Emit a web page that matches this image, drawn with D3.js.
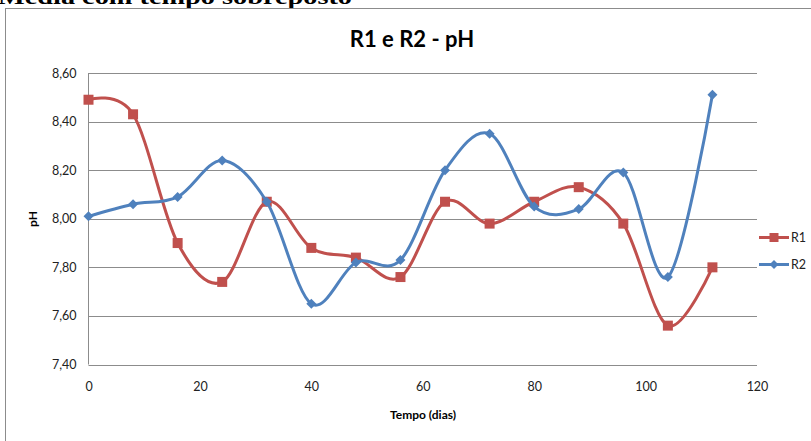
<!DOCTYPE html>
<html>
<head>
<meta charset="utf-8">
<script src="https://cdn.jsdelivr.net/npm/d3@7"></script>
<style>
  html, body { margin: 0; padding: 0; background: #fff; }
  svg { display: block; }
</style>
</head>
<body>
<svg id="chart" width="811" height="441"></svg>
<script>
// pH series, sampled every 8 days
var days = [0, 8, 16, 24, 32, 40, 48, 56, 64, 72, 80, 88, 96, 104, 112];
var r1 = [8.49, 8.43, 7.90, 7.74, 8.07, 7.88, 7.84, 7.76, 8.07, 7.98, 8.07, 8.13, 7.98, 7.56, 7.80];
var r2 = [8.01, 8.06, 8.09, 8.24, 8.07, 7.65, 7.82, 7.83, 8.20, 8.35, 8.05, 8.04, 8.19, 7.76, 8.51];
var seriesNames = ["R1", "R2"];
var xTicks = [0, 20, 40, 60, 80, 100, 120];
var yTicks = [7.40, 7.60, 7.80, 8.00, 8.20, 8.40, 8.60];

var colorMap = { R1: "#C0504D", R2: "#4F81BD" };
var ptBR = d3.formatLocale({ decimal: ",", thousands: ".", grouping: [3], currency: ["R$", ""] });
var fmtY = ptBR.format(".2f");

var svg = d3.select("#chart");

// heading of the page, cut off at the top
svg.append("text")
    .attr("x", -2).attr("y", 4)
    .attr("textLength", 354).attr("lengthAdjust", "spacingAndGlyphs")
    .style("font-family", "Liberation Serif")
    .style("font-weight", "bold")
    .style("font-size", "22px")
    .text("Média com tempo sobreposto");

// chart area border
svg.append("rect")
    .attr("x", 5.5).attr("y", 8.5)
    .attr("width", 820).attr("height", 450)
    .attr("fill", "none").attr("stroke", "#8c8c8c");

var x = d3.scaleLinear().domain([0, 120]).range([88.5, 757]);
var y = d3.scaleLinear().domain([7.4, 8.6]).range([364.5, 73]);

var font = "Lato, 'Open Sans', sans-serif";

svg.append("text")
    .attr("x", 412).attr("y", 47)
    .attr("text-anchor", "middle")
    .style("font-family", font).style("font-weight", "bold").style("font-size", "22px")
    .attr("fill", "#000")
    .text("R1 e R2 - pH");

// gridlines
svg.append("g").selectAll("line")
    .data(yTicks)
    .join("line")
    .attr("x1", x(0)).attr("x2", x(120))
    .attr("y1", function(d) { return Math.round(y(d)) + 0.5; })
    .attr("y2", function(d) { return Math.round(y(d)) + 0.5; })
    .attr("stroke", "#8c8c8c").attr("stroke-width", 1);

svg.append("line")
    .attr("x1", 88.5).attr("x2", 88.5)
    .attr("y1", y(8.6)).attr("y2", y(7.4))
    .attr("stroke", "#8c8c8c");

var yAxis = svg.append("g")
    .attr("transform", "translate(" + x(0) + ",0)")
    .call(d3.axisLeft(y).tickValues(yTicks).tickFormat(fmtY).tickSize(0).tickPadding(12));
var xAxis = svg.append("g")
    .attr("transform", "translate(0," + y(7.4) + ")")
    .call(d3.axisBottom(x).tickValues(xTicks).tickSize(0).tickPadding(18));

[yAxis, xAxis].forEach(function(ax) {
    ax.select(".domain").remove();
    ax.selectAll("text")
        .style("font-family", font).style("font-size", "12.5px").attr("fill", "#222");
});

svg.append("text")
    .attr("transform", "translate(37,219) rotate(-90)")
    .attr("text-anchor", "middle")
    .style("font-family", font).style("font-weight", "bold").style("font-size", "12px")
    .text("pH");

svg.append("text")
    .attr("x", 423).attr("y", 419)
    .attr("text-anchor", "middle")
    .style("font-family", font).style("font-weight", "bold").style("font-size", "12px")
    .text("Tempo (dias)");

var line = d3.line()
    .x(function(d) { return x(d[0]); })
    .y(function(d) { return y(d[1]); })
    .curve(d3.curveCardinal.tension(0));

function square(g, size) {
    return g.append("rect")
        .attr("x", -size / 2).attr("y", -size / 2)
        .attr("width", size).attr("height", size);
}
function diamond(g, size) {
    return g.append("path")
        .attr("d", "M0," + (-size / 2) + "L" + (size / 2) + ",0L0," + (size / 2) + "L" + (-size / 2) + ",0Z");
}

var seriesData = { R1: r1, R2: r2 };

seriesNames.forEach(function(name) {
    var pts = days.map(function(d, i) { return [d, seriesData[name][i]]; });
    var col = colorMap[name];
    svg.append("path")
        .datum(pts)
        .attr("d", line)
        .attr("fill", "none").attr("stroke", col).attr("stroke-width", 3)
        .attr("stroke-linejoin", "round");
    svg.append("g").selectAll("g")
        .data(pts)
        .join("g")
        .attr("transform", function(d) { return "translate(" + x(d[0]) + "," + y(d[1]) + ")"; })
        .each(function() {
            var g = d3.select(this);
            var m = name === "R1" ? square(g, 10) : diamond(g, 10);
            m.attr("fill", col);
        });
});

// legend
var legend = svg.append("g");
seriesNames.forEach(function(name, i) {
    var ly = 237.5 + i * 27;
    var col = colorMap[name];
    legend.append("line")
        .attr("x1", 759).attr("x2", 789).attr("y1", ly).attr("y2", ly)
        .attr("stroke", col).attr("stroke-width", 3);
    var g = legend.append("g").attr("transform", "translate(774," + ly + ")");
    var m = name === "R1" ? square(g, 9) : diamond(g, 9);
    m.attr("fill", col);
    legend.append("text")
        .attr("x", 791).attr("y", ly).attr("dy", "0.35em")
        .style("font-family", font).style("font-size", "12.5px").attr("fill", "#222")
        .text(name);
});
</script>
</body>
</html>
